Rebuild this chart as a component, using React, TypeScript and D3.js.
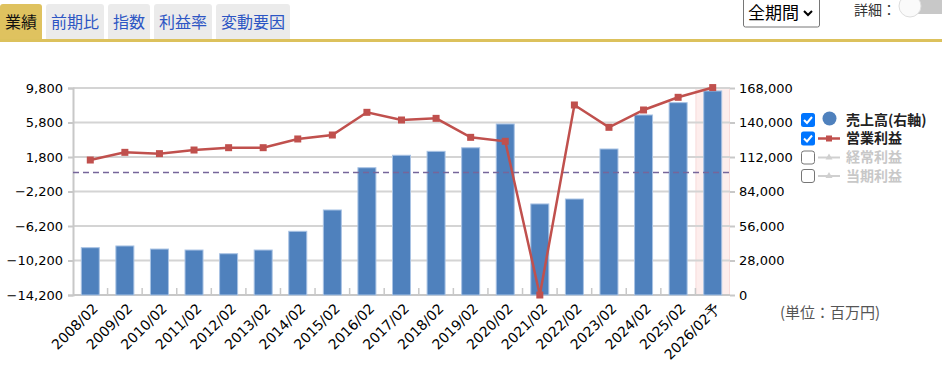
import React, { useEffect, useRef } from 'react';
import * as d3 from 'd3';

// data
const periods = [
  '2008/02', '2009/02', '2010/02', '2011/02', '2012/02', '2013/02', '2014/02',
  '2015/02', '2016/02', '2017/02', '2018/02', '2019/02', '2020/02', '2021/02',
  '2022/02', '2023/02', '2024/02', '2025/02', '2026/02予',
];
// 売上高 (right axis, 百万円)
const sales = [
  38400, 39800, 37300, 36500, 33500, 36500, 51700, 69000, 103300, 113400,
  116600, 119500, 138800, 73900, 77900, 118500, 146100, 156100, 165600,
];
// 営業利益 (left axis, 百万円)
const opProfit = [
  1450, 2340, 2190, 2610, 2880, 2880, 3890, 4350, 6980, 6090,
  6280, 4080, 3620, -14200, 7830, 5240, 7250, 8720, 9850,
];
const leftTicks = [-14200, -10200, -6200, -2200, 1800, 5800, 9800];
const rightTicks = [0, 28000, 56000, 84000, 112000, 140000, 168000];
const tabs = ['業績', '前期比', '指数', '利益率', '変動要因'];
const legendItems = [
  { label: '売上高(右軸)', checked: true, kind: 'dot' },
  { label: '営業利益', checked: true, kind: 'line' },
  { label: '経常利益', checked: false, kind: 'off' },
  { label: '当期利益', checked: false, kind: 'off' },
];

const CJK = '"Noto Sans CJK JP", sans-serif';
const NUM = '"DejaVu Sans", sans-serif';

const App = () => {
  const svgRef = useRef(null);

  useEffect(() => {
    const width = 942;
    const height = 372;
    const margin = { top: 88, right: 212, bottom: 77, left: 73 };
    const svg = d3.select(svgRef.current);
    svg.selectAll('*').remove();

    // tabs
    let tx = 0;
    tabs.forEach((t, i) => {
      const w = t.length * 16 + 10;
      svg.append('path')
        .attr('d', `M${tx},40 V7 Q${tx},4 ${tx + 3},4 H${tx + w - 3} Q${tx + w},4 ${tx + w},7 V40 Z`)
        .attr('fill', i === 0 ? '#dfc25f' : '#ebebeb');
      svg.append('text')
        .attr('x', tx + w / 2)
        .attr('y', 22)
        .attr('dy', '0.35em')
        .attr('text-anchor', 'middle')
        .attr('font-family', CJK)
        .attr('font-size', 16)
        .attr('fill', i === 0 ? '#111' : '#2d56c4')
        .text(t);
      tx += w + 4;
    });
    svg.append('rect').attr('x', 0).attr('y', 39).attr('width', width).attr('height', 3).attr('fill', '#dcc15c');

    // period select
    svg.append('rect')
      .attr('x', 743.5).attr('y', -3).attr('width', 76).attr('height', 30)
      .attr('rx', 2).attr('fill', '#fff').attr('stroke', '#767676');
    svg.append('text')
      .attr('x', 748).attr('y', 13).attr('dy', '0.35em')
      .attr('font-family', CJK).attr('font-size', 17).attr('fill', '#000')
      .text('全期間');
    svg.append('path')
      .attr('d', 'M804,11 L808,15 L812,11')
      .attr('fill', 'none').attr('stroke', '#000').attr('stroke-width', 2);

    // 詳細 toggle
    svg.append('text')
      .attr('x', 854).attr('y', 10).attr('dy', '0.35em')
      .attr('font-family', CJK).attr('font-size', 14).attr('fill', '#333')
      .text('詳細：');
    svg.append('rect')
      .attr('x', 904).attr('y', 0).attr('width', 50).attr('height', 14).attr('rx', 7)
      .attr('fill', '#c8c8c8');
    svg.append('circle')
      .attr('cx', 910).attr('cy', 6).attr('r', 11)
      .attr('fill', '#fafafa').attr('stroke', '#ddd').attr('stroke-width', 1);

    const plotW = width - margin.left - margin.right;
    const plotH = height - margin.top - margin.bottom;
    const chart = svg.append('g').attr('transform', `translate(${margin.left},${margin.top})`);

    const x = d3.scaleBand().domain(periods).range([0, plotW]).paddingInner(0).paddingOuter(0);
    const yLeft = d3.scaleLinear().domain([-14200, 9800]).range([plotH, 0]);
    const yRight = d3.scaleLinear().domain([0, 168000]).range([plotH, 0]);

    // forecast highlight
    const last = periods[periods.length - 1];
    chart.append('rect')
      .attr('x', x(last) + 0.5).attr('y', 0)
      .attr('width', x.bandwidth() - 1).attr('height', plotH)
      .attr('fill', '#fdeeed').attr('stroke', '#f7dcdb');

    // gridlines
    chart.append('g')
      .selectAll('line')
      .data(leftTicks)
      .join('line')
      .attr('x1', 0).attr('x2', plotW)
      .attr('y1', d => yLeft(d)).attr('y2', d => yLeft(d))
      .attr('stroke', '#d4d4d4').attr('stroke-width', 2);

    // left axis
    const leftAxis = chart.append('g')
      .call(d3.axisLeft(yLeft).tickValues(leftTicks).tickSize(5).tickPadding(5).tickFormat(d3.format(',')));
    leftAxis.select('.domain').attr('stroke', '#c8c8c8').attr('stroke-width', 2);
    leftAxis.selectAll('.tick line').attr('stroke', '#c8c8c8').attr('stroke-width', 2);
    leftAxis.selectAll('text').attr('font-family', NUM).attr('font-size', 13).attr('fill', '#000');

    // right axis
    const rightAxis = chart.append('g')
      .attr('transform', `translate(${plotW},0)`)
      .call(d3.axisRight(yRight).tickValues(rightTicks).tickSize(5).tickPadding(4).tickFormat(d3.format(',')));
    rightAxis.select('.domain').remove();
    rightAxis.selectAll('.tick line').attr('stroke', '#c8c8c8').attr('stroke-width', 2);
    rightAxis.selectAll('text').attr('font-family', NUM).attr('font-size', 13).attr('fill', '#000');

    // bottom axis line and band ticks
    chart.append('line')
      .attr('x1', 0).attr('x2', plotW).attr('y1', plotH).attr('y2', plotH)
      .attr('stroke', '#c8c8c8').attr('stroke-width', 2);
    chart.append('g')
      .selectAll('line')
      .data(periods.slice(1))
      .join('line')
      .attr('x1', d => x(d)).attr('x2', d => x(d))
      .attr('y1', plotH).attr('y2', plotH - 7)
      .attr('stroke', '#c8c8c8').attr('stroke-width', 1.5);

    // x labels
    chart.append('g')
      .selectAll('text')
      .data(periods)
      .join('text')
      .attr('transform', d => `translate(${x(d) + x.bandwidth() / 2 + 5},${plotH + 11}) rotate(-45)`)
      .attr('text-anchor', 'end')
      .attr('dy', '0.35em')
      .attr('font-family', NUM)
      .attr('font-size', 14)
      .attr('fill', '#000')
      .text(d => d);

    // bars
    const barW = 18;
    chart.append('g')
      .selectAll('rect')
      .data(sales)
      .join('rect')
      .attr('x', (d, i) => x(periods[i]) + x.bandwidth() / 2 - barW / 2)
      .attr('y', d => yRight(d))
      .attr('width', barW)
      .attr('height', d => plotH - yRight(d))
      .attr('fill', '#4f81bd')
      .attr('stroke', '#a9c3e4')
      .attr('stroke-width', 1);

    // zero line
    chart.append('line')
      .attr('x1', 0).attr('x2', plotW)
      .attr('y1', yLeft(0)).attr('y2', yLeft(0))
      .attr('stroke', '#76669a').attr('stroke-width', 1.5)
      .attr('stroke-dasharray', '6,4');

    // operating profit line
    const line = d3.line()
      .x((d, i) => x(periods[i]) + x.bandwidth() / 2)
      .y(d => yLeft(d));
    chart.append('path')
      .datum(opProfit)
      .attr('fill', 'none')
      .attr('stroke', '#c0504d')
      .attr('stroke-width', 2.5)
      .attr('d', line);
    chart.append('g')
      .selectAll('rect')
      .data(opProfit)
      .join('rect')
      .attr('x', (d, i) => x(periods[i]) + x.bandwidth() / 2 - 3.5)
      .attr('y', d => yLeft(d) - 3.5)
      .attr('width', 7).attr('height', 7)
      .attr('fill', '#c0504d');

    // legend
    const rowY = [120, 138.5, 157.5, 176];
    legendItems.forEach((item, i) => {
      const y = rowY[i];
      const g = svg.append('g');
      if (item.checked) {
        g.append('rect').attr('x', 801).attr('y', y - 7).attr('width', 14).attr('height', 14)
          .attr('rx', 2.5).attr('fill', '#0075ff');
        g.append('path').attr('d', `M804,${y} L807,${y + 3} L812,${y - 3}`)
          .attr('fill', 'none').attr('stroke', '#fff').attr('stroke-width', 2);
      } else {
        g.append('rect').attr('x', 801.5).attr('y', y - 6.5).attr('width', 13).attr('height', 13)
          .attr('rx', 2.5).attr('fill', '#fff').attr('stroke', '#767676');
      }
      if (item.kind === 'dot') {
        g.append('circle').attr('cx', 829.5).attr('cy', y - 1.5).attr('r', 7).attr('fill', '#4f81bd');
      } else if (item.kind === 'line') {
        g.append('line').attr('x1', 818).attr('x2', 840).attr('y1', y).attr('y2', y)
          .attr('stroke', '#c0504d').attr('stroke-width', 2.5);
        g.append('rect').attr('x', 826).attr('y', y - 3).attr('width', 6).attr('height', 6).attr('fill', '#c0504d');
      } else {
        g.append('line').attr('x1', 818).attr('x2', 840).attr('y1', y).attr('y2', y)
          .attr('stroke', '#d0d0d0').attr('stroke-width', 2);
        g.append('path').attr('d', `M829,${y - 4} L832.5,${y + 2} L825.5,${y + 2} Z`).attr('fill', '#d0d0d0');
      }
      g.append('text')
        .attr('x', 846).attr('y', y).attr('dy', '0.35em')
        .attr('font-family', CJK).attr('font-size', 14).attr('font-weight', 'bold')
        .attr('fill', item.checked ? '#222' : '#c8c8c8')
        .text(item.label);
    });

    // unit
    svg.append('text')
      .attr('x', 780).attr('y', 313).attr('dy', '0.35em')
      .attr('font-family', CJK).attr('font-size', 15).attr('fill', '#555')
      .text('(単位：百万円)');
  }, []);

  return (
    <div style={{ position: 'absolute', left: 0, top: 0 }}>
      <svg ref={svgRef} width={942} height={372} style={{ display: 'block' }}></svg>
    </div>
  );
};

export default App;
